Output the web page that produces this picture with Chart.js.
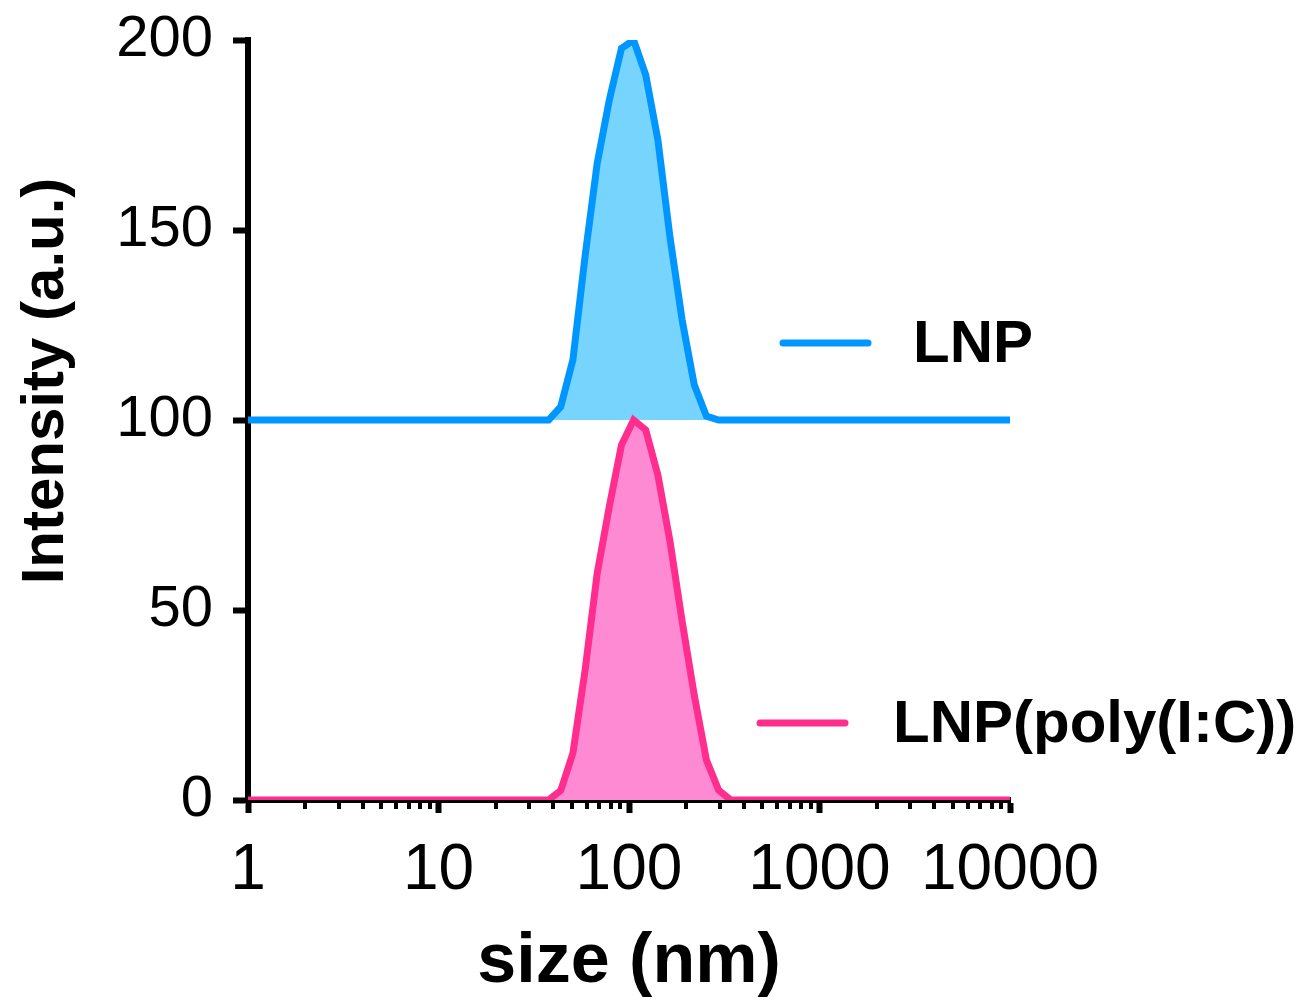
<!DOCTYPE html>
<html>
<head>
<meta charset="utf-8">
<title>DLS size distribution</title>
<script src="https://cdn.jsdelivr.net/npm/chart.js@4/dist/chart.umd.min.js"></script>
<style>
  html, body { margin: 0; padding: 0; background: #fff; }
  canvas { display: block; }
</style>
</head>
<body>
<canvas id="myChart" width="1308" height="1001"></canvas>
<script>
// Kích thước hạt (nm) - các bin DLS
const sizes = [1, 37.84, 43.82, 50.75, 58.77, 68.06, 78.82, 91.28, 105.7, 122.4, 141.8, 164.2, 190.1, 220.2, 255.0, 295.3, 342.0, 10000];

// Cường độ (a.u.)
const lnpIntensity = [0, 0, 3.5, 15.8, 43, 67.5, 84.2, 97.8, 100, 90.8, 73.7, 48, 26.3, 9.2, 1, 0, 0, 0];
const polyICIntensity = [0, 0, 2.5, 12.3, 34, 59.6, 77.2, 93.4, 100, 97.4, 85.5, 68, 47, 27.5, 10.5, 2.6, 0, 0];

// Đường LNP được đẩy lên 100 đơn vị
const lnpOffset = 100;

const seriesNames = ['LNP', 'LNP(poly(I:C))'];

// Nhãn trục
const xMajorTicks = [1, 10, 100, 1000, 10000];
const xMinorSteps = [2, 3, 4, 5, 6, 7, 8, 9];
const yTicks = [0, 50, 100, 150, 200];

const FONT = '"Liberation Sans", Arial, Helvetica, sans-serif';
const blueLine = '#0096FF';
const blueFill = '#77D4FC';
const pinkLine = '#FF2D8E';
const pinkFill = '#FF8AD4';

const xMinorTicks = [];
xMajorTicks.slice(0, -1).forEach(m => xMinorSteps.forEach(s => xMinorTicks.push(m * s)));
const xAllTicks = xMajorTicks.concat(xMinorTicks).sort((a, b) => a - b);

// Vẽ vạch phụ, tiêu đề trục y và chú thích
const extrasPlugin = {
    id: 'extras',
    afterDraw(chart) {
        const c = chart.ctx;
        const xs = chart.scales.x;
        const area = chart.chartArea;
        c.save();

        // vạch phụ trục x
        c.strokeStyle = '#000';
        c.lineWidth = 4;
        xMinorTicks.forEach(v => {
            const px = Math.round(xs.getPixelForValue(v));
            c.beginPath();
            c.moveTo(px, area.bottom + 2);
            c.lineTo(px, area.bottom + 9);
            c.stroke();
        });

        // tiêu đề trục y
        c.save();
        c.translate(63, 381);
        c.rotate(-Math.PI / 2);
        c.font = 'bold 60px ' + FONT;
        c.fillStyle = '#000';
        c.textAlign = 'center';
        c.textBaseline = 'alphabetic';
        c.fillText('Intensity (a.u.)', 0, 0);
        c.restore();

        // chú thích
        const items = [
            { name: seriesNames[0], color: blueLine, x: 783, y: 343, gap: 45 },
            { name: seriesNames[1], color: pinkLine, x: 760, y: 723, gap: 48 }
        ];
        items.forEach(it => {
            c.strokeStyle = it.color;
            c.lineWidth = 7;
            c.lineCap = 'round';
            c.beginPath();
            c.moveTo(it.x, it.y);
            c.lineTo(it.x + 85, it.y);
            c.stroke();
            c.font = 'bold 60px ' + FONT;
            c.fillStyle = '#000';
            c.textAlign = 'left';
            c.textBaseline = 'middle';
            c.fillText(it.name, it.x + 85 + it.gap, it.y + 2);
        });
        c.restore();
    }
};

const ctx = document.getElementById('myChart');

const myChart = new Chart(ctx.getContext('2d'), {
    type: 'line',
    data: {
        labels: sizes,
        datasets: [
            {
                label: seriesNames[1],
                data: sizes.map((s, i) => ({ x: s, y: polyICIntensity[i] })),
                borderColor: pinkLine,
                backgroundColor: pinkFill,
                borderWidth: 7,
                fill: 'origin',
                pointRadius: 0,
                tension: 0,
                borderCapStyle: 'round'
            },
            {
                label: seriesNames[0],
                data: sizes.map((s, i) => ({ x: s, y: lnpIntensity[i] + lnpOffset })),
                borderColor: blueLine,
                backgroundColor: blueFill,
                borderWidth: 7,
                fill: { value: lnpOffset },
                pointRadius: 0,
                tension: 0,
                borderCapStyle: 'round'
            }
        ]
    },
    options: {
        responsive: false,
        animation: false,
        devicePixelRatio: 1,
        layout: { padding: { top: 40, right: 298, left: 0, bottom: 0 } },
        plugins: {
            legend: { display: false },
            tooltip: { enabled: false }
        },
        scales: {
            x: {
                type: 'logarithmic',
                min: 1,
                max: 10000,
                afterBuildTicks: scale => {
                    scale.ticks = xAllTicks.map(v => ({ value: v }));
                },
                afterFit: scale => { scale.height = 201; },
                border: { display: true, color: '#000', width: 6 },
                grid: {
                    drawOnChartArea: false,
                    drawTicks: true,
                    tickLength: 13,
                    tickWidth: 6,
                    tickColor: c => xMajorTicks.includes(c.tick && c.tick.value) ? '#000' : 'rgba(0,0,0,0)'
                },
                ticks: {
                    autoSkip: false,
                    maxRotation: 0,
                    padding: 20,
                    color: '#000',
                    font: { family: FONT, size: 64 },
                    callback: v => xMajorTicks.includes(v) ? String(v) : ''
                },
                title: {
                    display: true,
                    text: 'size (nm)',
                    color: '#000',
                    font: { family: FONT, size: 70, weight: 'bold', lineHeight: 1 },
                    padding: { top: 0, bottom: 3 }
                }
            },
            y: {
                min: 0,
                max: 200,
                afterBuildTicks: scale => {
                    scale.ticks = yTicks.map(v => ({ value: v }));
                },
                afterFit: scale => {
                    scale.width = 248;
                    scale.paddingTop = 0;
                    scale.paddingBottom = 0;
                },
                border: { display: true, color: '#000', width: 6 },
                grid: {
                    drawOnChartArea: false,
                    drawTicks: true,
                    tickLength: 15,
                    tickWidth: 6,
                    tickColor: '#000'
                },
                ticks: {
                    padding: 20,
                    color: '#000',
                    font: { family: FONT, size: 58 }
                }
            }
        }
    },
    plugins: [extrasPlugin]
});
</script>
</body>
</html>
